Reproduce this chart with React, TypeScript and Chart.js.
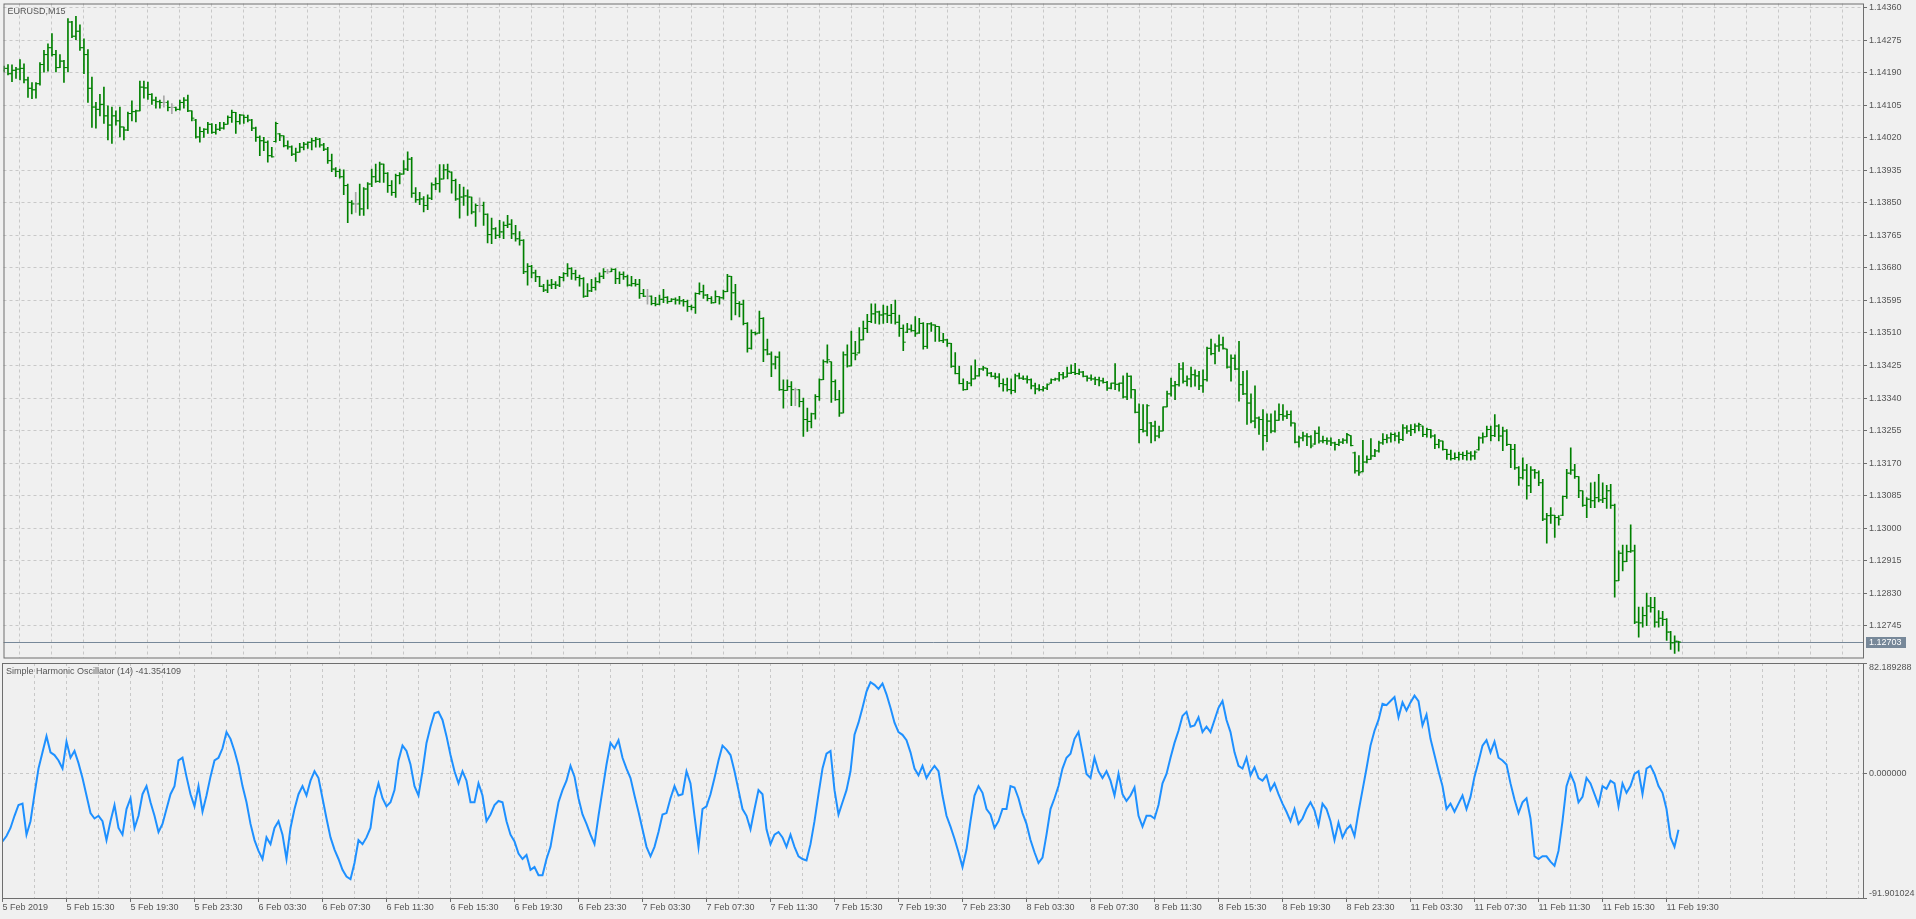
import React, { useEffect, useRef } from "react";
import { Chart, registerables } from "chart.js";
Chart.register(...registerables);

// ---------- DATA ----------
const symbolTitle = "EURUSD,M15";
const oscTitle = "Simple Harmonic Oscillator (14)";
const lastPrice = 1.12703;

const opens = [
1.14196,1.14201,1.14187,1.14196,1.14199,1.14201,1.14171,1.14149,1.14145,1.14161,
1.14211,1.14237,1.14255,1.14237,1.14203,1.14220,1.14203,1.14322,1.14285,1.14298,
1.14255,1.14237,1.14149,1.14100,1.14094,1.14107,1.14077,1.14053,1.14077,1.14064,
1.14048,1.14040,1.14083,1.14088,1.14090,1.14152,1.14150,1.14133,1.14118,1.14114,
1.14112,1.14112,1.14099,1.14099,1.14094,1.14112,1.14118,1.14090,1.14066,1.14022,
1.14036,1.14042,1.14055,1.14034,1.14042,1.14045,1.14055,1.14073,1.14086,1.14062,
1.14079,1.14073,1.14066,1.14045,1.14021,1.14012,1.14008,1.13973,1.14010,1.14030,
1.14025,1.13999,1.13996,1.13977,1.13982,1.13995,1.14003,1.14008,1.14012,1.14016,
1.14001,1.13990,1.13960,1.13938,1.13932,1.13918,1.13895,1.13851,1.13847,1.13847,
1.13834,1.13886,1.13899,1.13918,1.13906,1.13951,1.13927,1.13895,1.13877,1.13921,
1.13925,1.13938,1.13964,1.13875,1.13858,1.13860,1.13843,1.13862,1.13897,1.13900,
1.13912,1.13936,1.13930,1.13908,1.13860,1.13865,1.13868,1.13865,1.13826,1.13843,
1.13843,1.13820,1.13767,1.13782,1.13765,1.13774,1.13791,1.13794,1.13769,1.13756,
1.13752,1.13670,1.13684,1.13667,1.13657,1.13632,1.13622,1.13635,1.13637,1.13635,
1.13655,1.13665,1.13678,1.13665,1.13655,1.13652,1.13606,1.13620,1.13629,1.13644,
1.13658,1.13670,1.13670,1.13676,1.13652,1.13663,1.13657,1.13635,1.13639,1.13637,
1.13613,1.13606,1.13606,1.13587,1.13585,1.13598,1.13603,1.13592,1.13598,1.13596,
1.13594,1.13592,1.13579,1.13577,1.13613,1.13618,1.13609,1.13600,1.13589,1.13605,
1.13602,1.13618,1.13658,1.13615,1.13587,1.13585,1.13535,1.13470,1.13511,1.13510,
1.13548,1.13466,1.13455,1.13429,1.13447,1.13362,1.13360,1.13370,1.13362,1.13362,
1.13331,1.13284,1.13279,1.13299,1.13344,1.13388,1.13435,1.13435,1.13383,1.13336,
1.13301,1.13453,1.13424,1.13457,1.13458,1.13492,1.13522,1.13540,1.13560,1.13565,
1.13557,1.13560,1.13556,1.13561,1.13538,1.13522,1.13512,1.13520,1.13516,1.13510,
1.13535,1.13475,1.13534,1.13531,1.13527,1.13490,1.13492,1.13483,1.13423,1.13404,
1.13378,1.13362,1.13379,1.13390,1.13398,1.13416,1.13418,1.13405,1.13397,1.13395,
1.13378,1.13375,1.13362,1.13360,1.13398,1.13392,1.13390,1.13388,1.13372,1.13364,
1.13362,1.13366,1.13379,1.13388,1.13390,1.13401,1.13395,1.13405,1.13407,1.13404,
1.13408,1.13397,1.13392,1.13390,1.13388,1.13385,1.13381,1.13366,1.13379,1.13376,
1.13379,1.13343,1.13397,1.13362,1.13303,1.13258,1.13254,1.13275,1.13267,1.13241,
1.13254,1.13317,1.13351,1.13372,1.13375,1.13416,1.13384,1.13390,1.13401,1.13398,
1.13372,1.13388,1.13470,1.13456,1.13476,1.13479,1.13468,1.13421,1.13444,1.13416,
1.13375,1.13351,1.13327,1.13280,1.13288,1.13284,1.13242,1.13280,1.13254,1.13282,
1.13297,1.13293,1.13297,1.13275,1.13225,1.13236,1.13241,1.13239,1.13220,1.13248,
1.13228,1.13229,1.13228,1.13223,1.13219,1.13225,1.13230,1.13242,1.13197,1.13150,
1.13148,1.13173,1.13180,1.13189,1.13202,1.13223,1.13232,1.13236,1.13245,1.13241,
1.13232,1.13262,1.13254,1.13258,1.13267,1.13267,1.13245,1.13258,1.13241,1.13219,
1.13228,1.13206,1.13193,1.13182,1.13185,1.13193,1.13190,1.13196,1.13189,1.13205,
1.13236,1.13239,1.13258,1.13242,1.13267,1.13241,1.13254,1.13219,1.13206,1.13158,
1.13132,1.13152,1.13111,1.13152,1.13145,1.13119,1.13024,1.13033,1.13034,1.13028,
1.13034,1.13083,1.13144,1.13152,1.13135,1.13098,1.13060,1.13076,1.13072,1.13080,
1.13074,1.13078,1.13098,1.13060,1.12863,1.12935,1.12913,1.12939,1.12941,1.12755,
1.12753,1.12772,1.12797,1.12793,1.12755,1.12765,1.12762,1.12729,1.12701,1.12705
];

const highs = [
1.14207,1.14211,1.14210,1.14204,1.14224,1.14213,1.14178,1.14164,1.14164,1.14216,
1.14248,1.14265,1.14292,1.14248,1.14237,1.14222,1.14331,1.14324,1.14337,1.14315,
1.14278,1.14250,1.14178,1.14112,1.14133,1.14152,1.14103,1.14100,1.14090,1.14100,
1.14048,1.14087,1.14116,1.14092,1.14168,1.14168,1.14165,1.14135,1.14126,1.14118,
1.14129,1.14116,1.14109,1.14100,1.14118,1.14125,1.14131,1.14090,1.14068,1.14048,
1.14044,1.14060,1.14057,1.14055,1.14060,1.14060,1.14077,1.14092,1.14086,1.14081,
1.14079,1.14079,1.14068,1.14048,1.14025,1.14021,1.14012,1.13995,1.14061,1.14031,
1.14025,1.14012,1.13999,1.13993,1.14005,1.14008,1.14009,1.14018,1.14021,1.14018,
1.14005,1.13995,1.13977,1.13942,1.13938,1.13936,1.13899,1.13856,1.13877,1.13899,
1.13890,1.13903,1.13938,1.13951,1.13956,1.13951,1.13929,1.13908,1.13925,1.13929,
1.13960,1.13983,1.13969,1.13890,1.13877,1.13866,1.13871,1.13902,1.13915,1.13950,
1.13950,1.13951,1.13931,1.13912,1.13898,1.13891,1.13884,1.13865,1.13847,1.13863,
1.13852,1.13821,1.13810,1.13785,1.13804,1.13800,1.13817,1.13806,1.13791,1.13775,
1.13754,1.13691,1.13687,1.13674,1.13658,1.13637,1.13648,1.13650,1.13644,1.13658,
1.13668,1.13691,1.13681,1.13674,1.13661,1.13655,1.13639,1.13650,1.13655,1.13667,
1.13678,1.13676,1.13678,1.13678,1.13670,1.13670,1.13661,1.13658,1.13650,1.13650,
1.13624,1.13624,1.13607,1.13603,1.13609,1.13624,1.13605,1.13600,1.13602,1.13606,
1.13598,1.13596,1.13583,1.13615,1.13641,1.13635,1.13611,1.13605,1.13620,1.13605,
1.13622,1.13663,1.13658,1.13637,1.13592,1.13596,1.13537,1.13518,1.13513,1.13567,
1.13550,1.13494,1.13461,1.13450,1.13461,1.13388,1.13388,1.13383,1.13366,1.13362,
1.13340,1.13314,1.13301,1.13349,1.13390,1.13440,1.13479,1.13435,1.13388,1.13360,
1.13461,1.13479,1.13515,1.13488,1.13524,1.13541,1.13559,1.13586,1.13586,1.13567,
1.13583,1.13580,1.13585,1.13596,1.13557,1.13531,1.13535,1.13531,1.13553,1.13548,
1.13537,1.13535,1.13537,1.13531,1.13527,1.13509,1.13494,1.13483,1.13459,1.13423,
1.13390,1.13384,1.13424,1.13440,1.13418,1.13423,1.13418,1.13407,1.13405,1.13404,
1.13390,1.13392,1.13390,1.13403,1.13405,1.13398,1.13398,1.13390,1.13379,1.13375,
1.13371,1.13377,1.13390,1.13392,1.13407,1.13407,1.13421,1.13427,1.13431,1.13416,
1.13410,1.13398,1.13401,1.13395,1.13395,1.13392,1.13384,1.13379,1.13430,1.13379,
1.13398,1.13405,1.13398,1.13362,1.13325,1.13323,1.13323,1.13277,1.13280,1.13267,
1.13317,1.13358,1.13392,1.13384,1.13431,1.13433,1.13398,1.13421,1.13414,1.13410,
1.13414,1.13473,1.13494,1.13482,1.13505,1.13499,1.13468,1.13453,1.13453,1.13488,
1.13410,1.13412,1.13351,1.13372,1.13291,1.13310,1.13299,1.13299,1.13307,1.13325,
1.13323,1.13307,1.13307,1.13275,1.13241,1.13251,1.13247,1.13242,1.13255,1.13265,
1.13241,1.13236,1.13236,1.13225,1.13232,1.13234,1.13248,1.13242,1.13199,1.13190,
1.13230,1.13189,1.13234,1.13206,1.13228,1.13247,1.13245,1.13249,1.13249,1.13251,
1.13271,1.13268,1.13271,1.13273,1.13275,1.13267,1.13262,1.13258,1.13245,1.13232,
1.13228,1.13206,1.13204,1.13197,1.13199,1.13199,1.13203,1.13200,1.13202,1.13239,
1.13249,1.13267,1.13267,1.13297,1.13271,1.13264,1.13258,1.13219,1.13219,1.13161,
1.13184,1.13167,1.13161,1.13154,1.13150,1.13128,1.13039,1.13054,1.13034,1.13033,
1.13085,1.13154,1.13210,1.13167,1.13135,1.13098,1.13080,1.13119,1.13121,1.13141,
1.13119,1.13112,1.13115,1.13063,1.12941,1.12956,1.12956,1.13009,1.12956,1.12794,
1.12794,1.12831,1.12820,1.12820,1.12785,1.12783,1.12764,1.12731,1.12719,1.12705
];

const lows = [
1.14192,1.14184,1.14166,1.14175,1.14171,1.14163,1.14125,1.14122,1.14123,1.14157,
1.14191,1.14194,1.14233,1.14192,1.14203,1.14164,1.14192,1.14281,1.14276,1.14248,
1.14187,1.14112,1.14047,1.14045,1.14077,1.14057,1.14014,1.14005,1.14053,1.14022,
1.14014,1.14038,1.14064,1.14061,1.14090,1.14123,1.14120,1.14107,1.14097,1.14097,
1.14100,1.14090,1.14083,1.14090,1.14092,1.14097,1.14088,1.14064,1.14019,1.14008,
1.14021,1.14031,1.14031,1.14029,1.14038,1.14042,1.14055,1.14060,1.14031,1.14055,
1.14057,1.14061,1.14038,1.14010,1.13973,1.13986,1.13956,1.13969,1.14008,1.14012,
1.13996,1.13990,1.13973,1.13958,1.13982,1.13988,1.13992,1.13988,1.13995,1.13995,
1.13986,1.13953,1.13931,1.13918,1.13914,1.13871,1.13798,1.13821,1.13825,1.13817,
1.13817,1.13834,1.13892,1.13903,1.13903,1.13903,1.13877,1.13869,1.13864,1.13899,
1.13925,1.13934,1.13864,1.13851,1.13845,1.13826,1.13832,1.13858,1.13884,1.13878,
1.13912,1.13912,1.13875,1.13856,1.13810,1.13843,1.13817,1.13821,1.13788,1.13826,
1.13791,1.13745,1.13743,1.13756,1.13759,1.13756,1.13785,1.13756,1.13750,1.13739,
1.13665,1.13635,1.13654,1.13644,1.13631,1.13618,1.13615,1.13626,1.13626,1.13631,
1.13646,1.13658,1.13650,1.13648,1.13632,1.13603,1.13605,1.13618,1.13622,1.13641,
1.13652,1.13665,1.13670,1.13639,1.13639,1.13650,1.13632,1.13632,1.13632,1.13600,
1.13605,1.13585,1.13583,1.13581,1.13583,1.13589,1.13587,1.13592,1.13585,1.13585,
1.13580,1.13566,1.13570,1.13561,1.13611,1.13600,1.13594,1.13587,1.13589,1.13585,
1.13598,1.13618,1.13544,1.13557,1.13552,1.13531,1.13460,1.13468,1.13505,1.13509,
1.13435,1.13453,1.13396,1.13416,1.13360,1.13314,1.13360,1.13320,1.13320,1.13317,
1.13240,1.13253,1.13262,1.13285,1.13334,1.13388,1.13431,1.13329,1.13334,1.13292,
1.13301,1.13421,1.13424,1.13440,1.13457,1.13492,1.13511,1.13537,1.13535,1.13533,
1.13535,1.13537,1.13535,1.13533,1.13501,1.13464,1.13511,1.13514,1.13501,1.13509,
1.13468,1.13470,1.13514,1.13488,1.13488,1.13485,1.13475,1.13420,1.13403,1.13377,
1.13360,1.13362,1.13372,1.13390,1.13397,1.13412,1.13398,1.13395,1.13390,1.13369,
1.13358,1.13358,1.13351,1.13355,1.13390,1.13388,1.13379,1.13364,1.13351,1.13359,
1.13358,1.13362,1.13378,1.13386,1.13384,1.13390,1.13395,1.13404,1.13401,1.13401,
1.13395,1.13384,1.13386,1.13375,1.13372,1.13379,1.13360,1.13364,1.13362,1.13358,
1.13340,1.13336,1.13340,1.13301,1.13223,1.13251,1.13241,1.13223,1.13228,1.13236,
1.13254,1.13317,1.13345,1.13336,1.13371,1.13379,1.13372,1.13369,1.13371,1.13362,
1.13355,1.13384,1.13453,1.13429,1.13462,1.13468,1.13418,1.13384,1.13414,1.13332,
1.13349,1.13271,1.13275,1.13262,1.13245,1.13204,1.13226,1.13249,1.13251,1.13282,
1.13282,1.13286,1.13267,1.13223,1.13212,1.13228,1.13216,1.13210,1.13219,1.13222,
1.13223,1.13219,1.13216,1.13204,1.13216,1.13221,1.13222,1.13215,1.13144,1.13138,
1.13147,1.13171,1.13180,1.13187,1.13199,1.13219,1.13223,1.13225,1.13228,1.13222,
1.13229,1.13248,1.13242,1.13249,1.13254,1.13239,1.13238,1.13236,1.13208,1.13210,
1.13204,1.13180,1.13178,1.13180,1.13178,1.13180,1.13178,1.13178,1.13180,1.13204,
1.13222,1.13239,1.13228,1.13239,1.13228,1.13203,1.13216,1.13158,1.13154,1.13112,
1.13128,1.13076,1.13093,1.13130,1.13111,1.13020,1.12961,1.13013,1.12976,1.13008,
1.13033,1.13078,1.13141,1.13130,1.13080,1.13057,1.13028,1.13054,1.13054,1.13069,
1.13067,1.13052,1.13052,1.12820,1.12863,1.12889,1.12913,1.12937,1.12751,1.12716,
1.12742,1.12746,1.12781,1.12742,1.12742,1.12746,1.12707,1.12684,1.12673,1.12679
];

const closes = [
1.14201,1.14187,1.14196,1.14199,1.14201,1.14171,1.14149,1.14145,1.14161,1.14211,
1.14237,1.14255,1.14237,1.14203,1.14220,1.14203,1.14322,1.14285,1.14298,1.14255,
1.14237,1.14149,1.14100,1.14094,1.14107,1.14077,1.14053,1.14077,1.14064,1.14048,
1.14040,1.14083,1.14088,1.14090,1.14152,1.14150,1.14133,1.14118,1.14114,1.14112,
1.14112,1.14099,1.14099,1.14094,1.14112,1.14118,1.14090,1.14071,1.14022,1.14036,
1.14042,1.14055,1.14034,1.14042,1.14045,1.14055,1.14073,1.14086,1.14062,1.14079,
1.14073,1.14066,1.14045,1.14021,1.14012,1.14008,1.13973,1.13970,1.14057,1.14025,
1.13999,1.13996,1.13977,1.13982,1.13995,1.14003,1.14008,1.14012,1.14016,1.14001,
1.13990,1.13960,1.13938,1.13932,1.13918,1.13895,1.13851,1.13847,1.13847,1.13834,
1.13886,1.13899,1.13918,1.13906,1.13951,1.13927,1.13895,1.13877,1.13921,1.13925,
1.13938,1.13964,1.13875,1.13858,1.13860,1.13843,1.13862,1.13897,1.13900,1.13912,
1.13936,1.13932,1.13908,1.13860,1.13865,1.13868,1.13865,1.13826,1.13843,1.13843,
1.13820,1.13767,1.13782,1.13765,1.13774,1.13791,1.13794,1.13769,1.13756,1.13752,
1.13670,1.13684,1.13667,1.13657,1.13632,1.13622,1.13635,1.13637,1.13635,1.13655,
1.13665,1.13678,1.13665,1.13655,1.13652,1.13606,1.13620,1.13629,1.13644,1.13658,
1.13670,1.13670,1.13676,1.13652,1.13663,1.13657,1.13635,1.13639,1.13637,1.13613,
1.13606,1.13606,1.13587,1.13585,1.13598,1.13603,1.13592,1.13598,1.13596,1.13594,
1.13592,1.13579,1.13577,1.13613,1.13618,1.13609,1.13600,1.13589,1.13605,1.13602,
1.13618,1.13658,1.13615,1.13587,1.13585,1.13535,1.13470,1.13511,1.13508,1.13548,
1.13466,1.13455,1.13429,1.13447,1.13362,1.13360,1.13370,1.13362,1.13362,1.13331,
1.13284,1.13279,1.13299,1.13344,1.13388,1.13435,1.13440,1.13383,1.13336,1.13301,
1.13453,1.13424,1.13457,1.13453,1.13492,1.13522,1.13540,1.13560,1.13565,1.13557,
1.13560,1.13556,1.13561,1.13538,1.13522,1.13486,1.13520,1.13516,1.13508,1.13535,
1.13475,1.13534,1.13531,1.13527,1.13490,1.13492,1.13483,1.13423,1.13404,1.13378,
1.13362,1.13379,1.13390,1.13398,1.13416,1.13419,1.13405,1.13397,1.13395,1.13378,
1.13375,1.13362,1.13360,1.13398,1.13392,1.13390,1.13388,1.13372,1.13364,1.13362,
1.13366,1.13375,1.13388,1.13390,1.13401,1.13395,1.13405,1.13407,1.13404,1.13408,
1.13397,1.13392,1.13390,1.13388,1.13385,1.13381,1.13366,1.13379,1.13376,1.13379,
1.13343,1.13397,1.13362,1.13303,1.13258,1.13254,1.13320,1.13267,1.13241,1.13254,
1.13317,1.13351,1.13372,1.13375,1.13416,1.13384,1.13390,1.13401,1.13398,1.13372,
1.13388,1.13470,1.13456,1.13476,1.13479,1.13470,1.13421,1.13444,1.13416,1.13375,
1.13351,1.13327,1.13280,1.13288,1.13284,1.13242,1.13280,1.13254,1.13282,1.13297,
1.13293,1.13297,1.13275,1.13225,1.13236,1.13241,1.13239,1.13215,1.13248,1.13228,
1.13229,1.13228,1.13223,1.13219,1.13225,1.13230,1.13245,1.13216,1.13150,1.13145,
1.13173,1.13180,1.13189,1.13202,1.13223,1.13232,1.13236,1.13245,1.13241,1.13232,
1.13262,1.13254,1.13258,1.13267,1.13271,1.13245,1.13258,1.13241,1.13219,1.13228,
1.13206,1.13193,1.13182,1.13185,1.13193,1.13190,1.13196,1.13189,1.13199,1.13236,
1.13239,1.13258,1.13242,1.13267,1.13241,1.13254,1.13219,1.13206,1.13158,1.13132,
1.13152,1.13111,1.13152,1.13145,1.13119,1.13024,1.13033,1.13034,1.13028,1.13024,
1.13083,1.13144,1.13152,1.13135,1.13098,1.13060,1.13076,1.13072,1.13080,1.13074,
1.13078,1.13098,1.13060,1.12863,1.12935,1.12913,1.12939,1.12941,1.12755,1.12753,
1.12772,1.12797,1.12793,1.12755,1.12765,1.12762,1.12729,1.12701,1.12705,1.12703
];

const oscValues = [
-50,-46,-40,-31,-23,-22,-45,-35,-15,4,
16,28,16,14,10,4,24,12,17,8,
-3,-16,-29,-33,-31,-35,-49,-35,-23,-40,
-45,-26,-18,-40,-31,-15,-9,-21,-31,-43,
-37,-26,-15,-9,10,12,-2,-15,-24,-9,
-28,-16,-2,10,12,19,31,26,17,6,
-9,-21,-37,-49,-57,-63,-47,-52,-40,-35,
-45,-63,-40,-26,-15,-9,-16,-5,2,-3,
-18,-33,-47,-56,-63,-71,-76,-78,-66,-49,
-52,-47,-40,-18,-7,-18,-24,-21,-12,10,
21,17,7,-9,-16,2,23,35,45,46,
40,28,14,2,-7,2,-5,-21,-21,-7,
-16,-35,-30,-23,-20,-21,-35,-45,-50,-59,
-63,-60,-71,-69,-75,-75,-63,-54,-37,-21,
-12,-5,6,-2,-18,-30,-37,-45,-52,-31,
-12,7,23,19,25,12,4,-3,-16,-28,
-41,-54,-61,-54,-43,-30,-29,-18,-9,-16,
-15,2,-7,-31,-54,-26,-24,-15,-3,10,
21,18,14,2,-12,-26,-31,-41,-26,-12,
-15,-41,-52,-45,-43,-47,-54,-45,-54,-61,
-63,-64,-52,-35,-15,4,15,17,-12,-30,
-21,-12,2,29,38,49,61,68,66,63,
67,59,49,38,31,29,25,16,4,-1,
6,-3,2,6,2,-16,-31,-39,-48,-58,
-69,-56,-35,-16,-9,-14,-26,-30,-40,-35,
-26,-26,-9,-10,-18,-29,-37,-49,-58,-66,
-62,-45,-26,-18,-9,4,12,15,26,31,
16,0,-3,12,2,-3,2,-5,-16,0,
-15,-20,-16,-10,-31,-39,-31,-31,-33,-23,
-7,0,12,23,32,43,46,35,36,42,
31,35,31,40,49,54,40,31,16,6,
4,12,-1,5,-3,-5,-1,-12,-7,-15,
-22,-28,-35,-26,-37,-33,-26,-21,-27,-38,
-22,-26,-35,-49,-36,-47,-41,-38,-46,-28,
-12,4,21,32,40,52,51,54,57,42,
53,47,53,58,54,36,44,26,14,2,
-9,-26,-22,-28,-22,-16,-26,-17,-2,9,
21,25,16,24,12,10,7,-7,-19,-29,
-21,-18,-33,-61,-63,-61,-61,-65,-68,-57,
-35,-9,0,-7,-21,-17,-3,-7,-15,-23,
-9,-11,-5,-7,-24,-7,-14,-9,0,2,
-15,4,6,0,-9,-14,-26,-47,-54,-41.354109
];

const timeLabels = [
"5 Feb 2019","5 Feb 15:30","5 Feb 19:30","5 Feb 23:30",
"6 Feb 03:30","6 Feb 07:30","6 Feb 11:30","6 Feb 15:30","6 Feb 19:30","6 Feb 23:30",
"7 Feb 03:30","7 Feb 07:30","7 Feb 11:30","7 Feb 15:30","7 Feb 19:30","7 Feb 23:30",
"8 Feb 03:30","8 Feb 07:30","8 Feb 11:30","8 Feb 15:30","8 Feb 19:30","8 Feb 23:30",
"11 Feb 03:30","11 Feb 07:30","11 Feb 11:30","11 Feb 15:30","11 Feb 19:30"
];
const timeLabelBars = [0,16,32,48,64,80,96,112,128,144,160,176,192,208,224,240,256,272,288,304,320,336,352,368,384,400,416];

const priceTicks = [1.14360,1.14275,1.14190,1.14105,1.14020,1.13935,1.13850,1.13765,1.13680,1.13595,1.13510,1.13425,1.13340,1.13255,1.13170,1.13085,1.13000,1.12915,1.12830,1.12745];
const oscTicks = [82.189288, 0, -91.901024];

// ---------- STYLE ----------
const BG = "#f0f0f0";
const FRAME = "#6e6e6e";
const GRID = "#c8c8c8";
const TEXT = "#555555";
const UP = "#008000";
const DOJI = "#a8a8a8";
const OSC = "#1e90ff";
const PRICE_LINE = "#778899";
const FONT = "'Liberation Sans', Arial, sans-serif";

const X_MIN = -0.125;
const X_MAX = 465.125;
const P_MAX = 1.143704;
const P_MIN = 1.126626;
const AXIS_W = 53;

const gridTicks = () => {
  const t: any[] = [];
  for (let v = 0; v <= 464; v += 8) t.push({ value: v });
  return t;
};

const zeroPad = (s: any) => {
  s.paddingTop = 0; s.paddingBottom = 0; s.paddingLeft = 0; s.paddingRight = 0;
};

const framePlugin = {
  id: "frame",
  afterDraw(chart: any) {
    const { ctx, chartArea } = chart;
    const { left, top, right, bottom } = chartArea;
    ctx.save();
    ctx.strokeStyle = FRAME;
    ctx.lineWidth = 1;
    ctx.setLineDash([]);
    ctx.strokeRect(left + 0.5, top + 0.5, right - left, bottom - top);
    ctx.restore();
  },
};

const priceExtras = {
  id: "priceExtras",
  beforeDatasetsDraw(chart: any) {
    const { ctx, chartArea } = chart;
    const y = Math.floor(chart.scales.y.getPixelForValue(lastPrice)) + 0.5;
    ctx.save();
    ctx.strokeStyle = PRICE_LINE;
    ctx.lineWidth = 1;
    ctx.beginPath();
    ctx.moveTo(chartArea.left, y);
    ctx.lineTo(chartArea.right, y);
    ctx.stroke();
    ctx.restore();
  },
  afterDraw(chart: any) {
    const { ctx, chartArea } = chart;
    const y = Math.floor(chart.scales.y.getPixelForValue(lastPrice));
    ctx.save();
    ctx.fillStyle = PRICE_LINE;
    ctx.fillRect(chartArea.right + 3, y - 5, 40, 11);
    ctx.fillStyle = "#ffffff";
    ctx.font = `9px ${FONT}`;
    ctx.textBaseline = "middle";
    ctx.textAlign = "left";
    ctx.fillText(lastPrice.toFixed(5), chartArea.right + 6, y + 0.5);
    ctx.fillStyle = TEXT;
    ctx.fillText(symbolTitle, chartArea.left + 4, chartArea.top + 8);
    ctx.restore();
  },
};

const oscExtras = {
  id: "oscExtras",
  afterDraw(chart: any) {
    const { ctx, chartArea } = chart;
    ctx.save();
    ctx.fillStyle = TEXT;
    ctx.font = `9px ${FONT}`;
    ctx.textBaseline = "middle";
    ctx.textAlign = "left";
    const last = oscValues[oscValues.length - 1];
    ctx.fillText(`${oscTitle} ${last.toFixed(6)}`, chartArea.left + 4, chartArea.top + 9);
    ctx.restore();
  },
};

export default function App() {
  const priceRef = useRef<HTMLCanvasElement>(null);
  const oscRef = useRef<HTMLCanvasElement>(null);

  useEffect(() => {
    document.body.style.margin = "0";
    document.body.style.background = BG;
    Chart.defaults.font.family = FONT;
    Chart.defaults.font.size = 9;
    Chart.defaults.color = TEXT;

    const barColors = opens.map((o, i) => (o === closes[i] ? DOJI : UP));

    const c1 = new Chart(priceRef.current as HTMLCanvasElement, {
      type: "bar",
      data: {
        datasets: [
          {
            type: "bar",
            data: highs.map((h, i) => ({ x: i, y: [lows[i], h] })),
            backgroundColor: barColors,
            borderWidth: 0,
            barThickness: 1,
            grouped: false,
            order: 3,
          } as any,
          {
            type: "line",
            data: opens.map((o, i) => ({ x: i, y: o })),
            showLine: false,
            pointStyle: "dash",
            pointRadius: 2.5,
            pointHoverRadius: 2.5,
            pointRotation: 180,
            pointBorderColor: barColors,
            pointBorderWidth: 1,
            order: 2,
          } as any,
          {
            type: "line",
            data: closes.map((c, i) => ({ x: i, y: c })),
            showLine: false,
            pointStyle: "dash",
            pointRadius: 2.5,
            pointHoverRadius: 2.5,
            pointRotation: 0,
            pointBorderColor: barColors,
            pointBorderWidth: 1,
            order: 1,
          } as any,
        ],
      },
      options: {
        responsive: false,
        animation: false,
        events: [],
        layout: { padding: { left: 2, top: 2, right: 0, bottom: 2 } },
        plugins: { legend: { display: false }, tooltip: { enabled: false } },
        scales: {
          x: {
            type: "linear",
            min: X_MIN,
            max: X_MAX,
            offset: false,
            afterBuildTicks: (s: any) => { s.ticks = gridTicks(); },
            afterFit: (s: any) => { s.height = 0; zeroPad(s); },
            ticks: { display: false },
            grid: { color: GRID, lineWidth: 1, drawTicks: false },
            border: { display: false, dash: [3, 3] },
          },
          y: {
            type: "linear",
            position: "right",
            min: P_MIN,
            max: P_MAX,
            afterBuildTicks: (s: any) => { s.ticks = priceTicks.map((v) => ({ value: v })); },
            afterFit: (s: any) => { s.width = AXIS_W; zeroPad(s); },
            ticks: {
              autoSkip: false,
              padding: 2,
              color: TEXT,
              font: { family: FONT, size: 9 },
              callback: (v: any) => Number(v).toFixed(5),
            },
            grid: { color: GRID, lineWidth: 1, drawTicks: true, tickLength: 4, tickColor: FRAME, tickWidth: 1, tickBorderDash: [] },
            border: { display: false, dash: [3, 3] },
          },
        },
      } as any,
      plugins: [priceExtras, framePlugin],
    });

    const c2 = new Chart(oscRef.current as HTMLCanvasElement, {
      type: "line",
      data: {
        datasets: [
          {
            data: oscValues.map((v, i) => ({ x: i, y: v })),
            borderColor: OSC,
            borderWidth: 2,
            pointRadius: 0,
            tension: 0,
            fill: false,
          },
        ],
      },
      options: {
        responsive: false,
        animation: false,
        events: [],
        layout: { padding: { left: 2, top: 2, right: 0, bottom: 0 } },
        plugins: { legend: { display: false }, tooltip: { enabled: false } },
        scales: {
          x: {
            type: "linear",
            min: X_MIN,
            max: X_MAX,
            offset: false,
            afterBuildTicks: (s: any) => { s.ticks = gridTicks(); },
            afterFit: (s: any) => { s.height = 21; zeroPad(s); },
            ticks: {
              autoSkip: false,
              maxRotation: 0,
              minRotation: 0,
              align: "start",
              padding: 0,
              color: TEXT,
              font: { family: FONT, size: 9 },
              callback: (v: any) => {
                const k = timeLabelBars.indexOf(Number(v));
                return k >= 0 ? timeLabels[k] : "";
              },
            },
            grid: {
              color: GRID,
              lineWidth: 1,
              drawTicks: true,
              tickLength: 4,
              tickWidth: 1,
              tickBorderDash: [],
              tickColor: (c: any) => (c.tick && timeLabelBars.includes(c.tick.value) ? FRAME : "rgba(0,0,0,0)"),
            },
            border: { display: false, dash: [3, 3] },
          },
          y: {
            type: "linear",
            position: "right",
            min: oscTicks[2],
            max: oscTicks[0],
            afterBuildTicks: (s: any) => { s.ticks = oscTicks.map((v) => ({ value: v })); },
            afterFit: (s: any) => { s.width = AXIS_W; zeroPad(s); },
            ticks: {
              autoSkip: false,
              padding: 2,
              color: TEXT,
              font: { family: FONT, size: 9, lineHeight: 1 },
              callback: (v: any) => {
                const n = Number(v);
                const txt = n.toFixed(6);
                if (Math.abs(n - oscTicks[0]) < 1e-9) return ["", txt];
                if (Math.abs(n - oscTicks[2]) < 1e-9) return [txt, ""];
                return txt;
              },
            },
            grid: {
              color: (c: any) => (c.tick && c.tick.value === 0 ? GRID : "rgba(0,0,0,0)"),
              lineWidth: 1,
              drawTicks: true,
              tickLength: 4,
              tickWidth: 1,
              tickColor: FRAME,
              tickBorderDash: [],
            },
            border: { display: false, dash: [3, 3] },
          },
        },
      } as any,
      plugins: [oscExtras, framePlugin],
    });

    return () => {
      c1.destroy();
      c2.destroy();
    };
  }, []);

  return (
    <div style={{ position: "fixed", left: 0, top: 0, width: 1916, height: 919, background: BG, overflow: "hidden" }}>
      <canvas ref={priceRef} width={1916} height={661} style={{ position: "absolute", left: 0, top: 0, width: 1916, height: 661, display: "block" }} />
      <canvas ref={oscRef} width={1916} height={258} style={{ position: "absolute", left: 0, top: 661, width: 1916, height: 258, display: "block" }} />
    </div>
  );
}
